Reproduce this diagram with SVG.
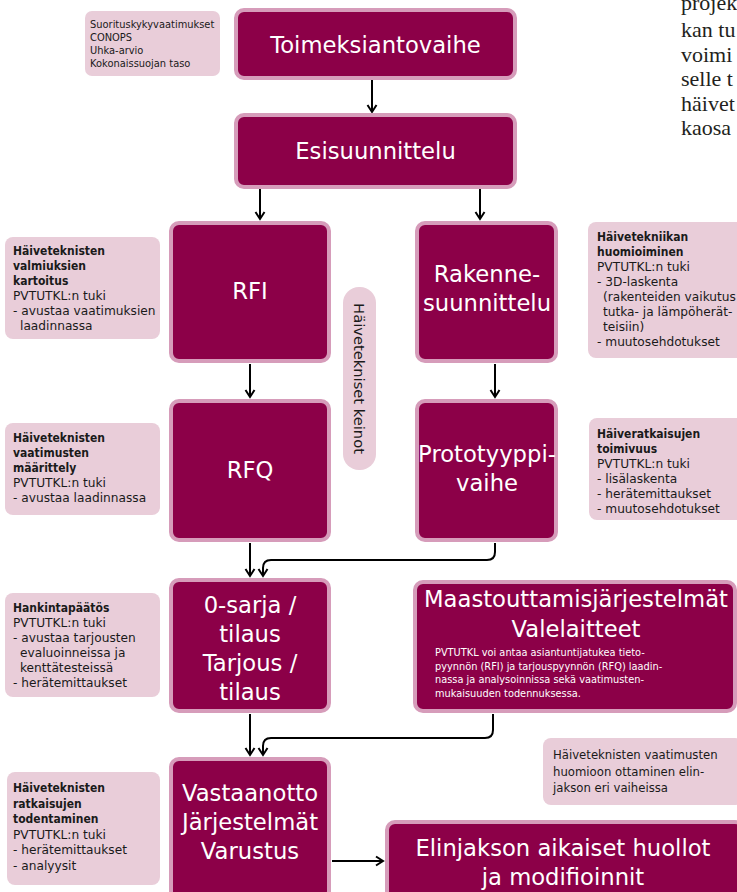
<svg xmlns="http://www.w3.org/2000/svg" width="737" height="892" viewBox="0 0 737 892">
  <defs>
    <style>
      .stage { fill: #8c0048; stroke: #d69cba; stroke-width: 4; }
      .note { fill: #e9cdd9; }
      .big { font-family: "DejaVu Sans", "Open Sans", sans-serif; font-size: 22.7px; fill: #ffffff; text-anchor: middle; }
      .small { font-family: "DejaVu Sans", "Open Sans", sans-serif; font-size: 9.8px; fill: #ffffff; }
      .side { font-family: "DejaVu Sans", "Open Sans", sans-serif; font-size: 12.2px; fill: #1a1a1a; }
      .b { font-family: "DejaVu Sans Condensed", "DejaVu Sans", sans-serif; font-weight: bold; font-size: 12px; }
      .tiny { font-family: "DejaVu Sans", "Open Sans", sans-serif; font-size: 9.9px; fill: #1a1a1a; }
      .memo { font-family: "DejaVu Sans", "Open Sans", sans-serif; font-size: 11.7px; fill: #1a1a1a; }
      .band { font-family: "DejaVu Sans", "Open Sans", sans-serif; font-size: 14.7px; fill: #1a1a1a; text-anchor: middle; }
      .page { font-family: "Liberation Serif", "DejaVu Serif", serif; font-size: 22px; fill: #231f20; }
      .conn { fill: none; stroke: #000000; stroke-width: 2; }
    </style>
    <marker id="head" markerUnits="userSpaceOnUse" markerWidth="12" markerHeight="12" viewBox="0 0 12 12" refX="9" refY="6" orient="auto">
      <path d="M2,1.5 L9,6 L2,10.5" fill="none" stroke="#000000" stroke-width="2"/>
    </marker>
  </defs>

  <!-- running body text of the page, cut at the right margin -->
  <text id="page-text" class="page">
    <tspan x="681" y="10">projek</tspan>
    <tspan x="681" y="37">kan tu</tspan>
    <tspan x="681" y="61.5">voimi</tspan>
    <tspan x="681" y="86">selle t</tspan>
    <tspan x="681" y="110.5">häivet</tspan>
    <tspan x="681" y="135">kaosa</tspan>
  </text>

  <!-- connectors -->
  <g id="connectors" class="conn">
    <path d="M372,80 V112" marker-end="url(#head)"/>
    <path d="M260,189 V219" marker-end="url(#head)"/>
    <path d="M480,189 V219" marker-end="url(#head)"/>
    <path d="M250,364 V397" marker-end="url(#head)"/>
    <path d="M495,364 V397" marker-end="url(#head)"/>
    <path d="M250,543 V576" marker-end="url(#head)"/>
    <path d="M495,543 V552 Q495,560 487,560 H271 Q263,560 263,568 V576" marker-end="url(#head)"/>
    <path d="M250,714 V755" marker-end="url(#head)"/>
    <path d="M493,714 V730 Q493,738 485,738 H271 Q263,738 263,746 V755" marker-end="url(#head)"/>
    <path d="M332,861 H383" marker-end="url(#head)"/>
  </g>

  <!-- main stages -->
  <g id="toimeksiantovaihe">
    <rect class="stage" x="236" y="10" width="279" height="68" rx="8"/>
    <text class="big" x="375.5" y="53">Toimeksiantovaihe</text>
  </g>
  <g id="esisuunnittelu">
    <rect class="stage" x="236" y="115" width="279" height="72" rx="8"/>
    <text class="big" x="375.5" y="159">Esisuunnittelu</text>
  </g>
  <g id="rfi">
    <rect class="stage" x="171" y="223" width="158" height="138" rx="8"/>
    <text class="big" x="250" y="299">RFI</text>
  </g>
  <g id="rakennesuunnittelu">
    <rect class="stage" x="417" y="223" width="139" height="138" rx="8"/>
    <text class="big"><tspan x="487" y="282">Rakenne-</tspan><tspan x="487" y="311">suunnittelu</tspan></text>
  </g>
  <g id="rfq">
    <rect class="stage" x="171" y="401" width="158" height="139" rx="8"/>
    <text class="big" x="250" y="478">RFQ</text>
  </g>
  <g id="prototyyppivaihe">
    <rect class="stage" x="417" y="401" width="139" height="139" rx="8"/>
    <text class="big"><tspan x="487" y="462">Prototyyppi-</tspan><tspan x="487" y="491">vaihe</tspan></text>
  </g>
  <g id="nollasarja">
    <rect class="stage" x="171" y="580" width="158" height="131" rx="8"/>
    <text class="big"><tspan x="250" y="613">0-sarja /</tspan><tspan x="250" y="642">tilaus</tspan><tspan x="250" y="671">Tarjous /</tspan><tspan x="250" y="700">tilaus</tspan></text>
  </g>
  <g id="maastouttaminen">
    <rect class="stage" x="415" y="582" width="320" height="129" rx="8"/>
    <text class="big"><tspan x="576" y="607">Maastouttamisjärjestelmät</tspan><tspan x="576" y="637">Valelaitteet</tspan></text>
    <text class="small"><tspan x="435" y="656">PVTUTKL voi antaa asiantuntijatukea tieto-</tspan><tspan x="435" y="669.5">pyynnön (RFI) ja tarjouspyynnön (RFQ) laadin-</tspan><tspan x="435" y="683">nassa ja analysoinnissa sekä vaatimusten-</tspan><tspan x="435" y="696.5">mukaisuuden todennuksessa.</tspan></text>
  </g>
  <g id="vastaanotto">
    <rect class="stage" x="171" y="759" width="158" height="140" rx="8"/>
    <text class="big"><tspan x="250" y="801">Vastaanotto</tspan><tspan x="250" y="830">Järjestelmät</tspan><tspan x="250" y="859">Varustus</tspan></text>
  </g>
  <g id="elinjakso">
    <rect class="stage" x="387" y="822" width="356" height="80" rx="8"/>
    <text class="big"><tspan x="563" y="856">Elinjakson aikaiset huollot</tspan><tspan x="563" y="885">ja modifioinnit</tspan></text>
  </g>

  <!-- vertical band -->
  <g id="haivetekniset-keinot">
    <rect class="note" x="343" y="287" width="33" height="183" rx="16"/>
    <text class="band" x="0" y="0" transform="translate(354,378.5) rotate(90)">Häivetekniset keinot</text>
  </g>

  <!-- side notes -->
  <g id="lahtotiedot">
    <rect class="note" x="85" y="11" width="135" height="65" rx="7"/>
    <text class="tiny"><tspan x="90" y="28">Suorituskykyvaatimukset</tspan><tspan x="90" y="41">CONOPS</tspan><tspan x="90" y="54">Uhka-arvio</tspan><tspan x="90" y="67">Kokonaissuojan taso</tspan></text>
  </g>
  <g id="valmiuksien-kartoitus">
    <rect class="note" x="5" y="237" width="155" height="102" rx="8"/>
    <text class="side"><tspan class="b" x="13" y="255">Häiveteknisten</tspan><tspan class="b" x="13" y="270">valmiuksien</tspan><tspan class="b" x="13" y="285">kartoitus</tspan><tspan x="13" y="300">PVTUTKL:n tuki</tspan><tspan x="13" y="315">- avustaa vaatimuksien</tspan><tspan x="20" y="330">laadinnassa</tspan></text>
  </g>
  <g id="vaatimusten-maarittely">
    <rect class="note" x="5" y="423" width="155" height="92" rx="8"/>
    <text class="side"><tspan class="b" x="13" y="442">Häiveteknisten</tspan><tspan class="b" x="13" y="457">vaatimusten</tspan><tspan class="b" x="13" y="472">määrittely</tspan><tspan x="13" y="487">PVTUTKL:n tuki</tspan><tspan x="13" y="502">- avustaa laadinnassa</tspan></text>
  </g>
  <g id="hankintapaatos">
    <rect class="note" x="5" y="593" width="155" height="104" rx="8"/>
    <text class="side"><tspan class="b" x="13" y="612">Hankintapäätös</tspan><tspan x="13" y="627">PVTUTKL:n tuki</tspan><tspan x="13" y="642">- avustaa tarjousten</tspan><tspan x="20" y="657">evaluoinneissa ja</tspan><tspan x="20" y="672">kenttätesteissä</tspan><tspan x="13" y="687">- herätemittaukset</tspan></text>
  </g>
  <g id="ratkaisujen-todentaminen">
    <rect class="note" x="7" y="772" width="153" height="113" rx="8"/>
    <text class="side"><tspan class="b" x="13" y="792">Häiveteknisten</tspan><tspan class="b" x="13" y="807.5">ratkaisujen</tspan><tspan class="b" x="13" y="823">todentaminen</tspan><tspan x="13" y="838.5">PVTUTKL:n tuki</tspan><tspan x="13" y="854">- herätemittaukset</tspan><tspan x="13" y="869.5">- analyysit</tspan></text>
  </g>
  <g id="haivetekniikan-huomioiminen">
    <rect class="note" x="588" y="222" width="160" height="136" rx="8"/>
    <text class="side"><tspan class="b" x="597" y="241">Häivetekniikan</tspan><tspan class="b" x="597" y="256">huomioiminen</tspan><tspan x="597" y="271">PVTUTKL:n tuki</tspan><tspan x="597" y="286">- 3D-laskenta</tspan><tspan x="603" y="301">(rakenteiden vaikutus</tspan><tspan x="603" y="316">tutka- ja lämpöherät-</tspan><tspan x="603" y="331">teisiin)</tspan><tspan x="597" y="346">- muutosehdotukset</tspan></text>
  </g>
  <g id="haiveratkaisujen-toimivuus">
    <rect class="note" x="589" y="418" width="160" height="102" rx="8"/>
    <text class="side"><tspan class="b" x="597" y="438">Häiveratkaisujen</tspan><tspan class="b" x="597" y="453">toimivuus</tspan><tspan x="597" y="468">PVTUTKL:n tuki</tspan><tspan x="597" y="483">- lisälaskenta</tspan><tspan x="597" y="498">- herätemittaukset</tspan><tspan x="597" y="513">- muutosehdotukset</tspan></text>
  </g>
  <g id="elinjakso-huomio">
    <rect class="note" x="543" y="738" width="200" height="67" rx="8"/>
    <text class="memo"><tspan x="553" y="759">Häiveteknisten vaatimusten</tspan><tspan x="553" y="775.5">huomioon ottaminen elin-</tspan><tspan x="553" y="792">jakson eri vaiheissa</tspan></text>
  </g>
</svg>
